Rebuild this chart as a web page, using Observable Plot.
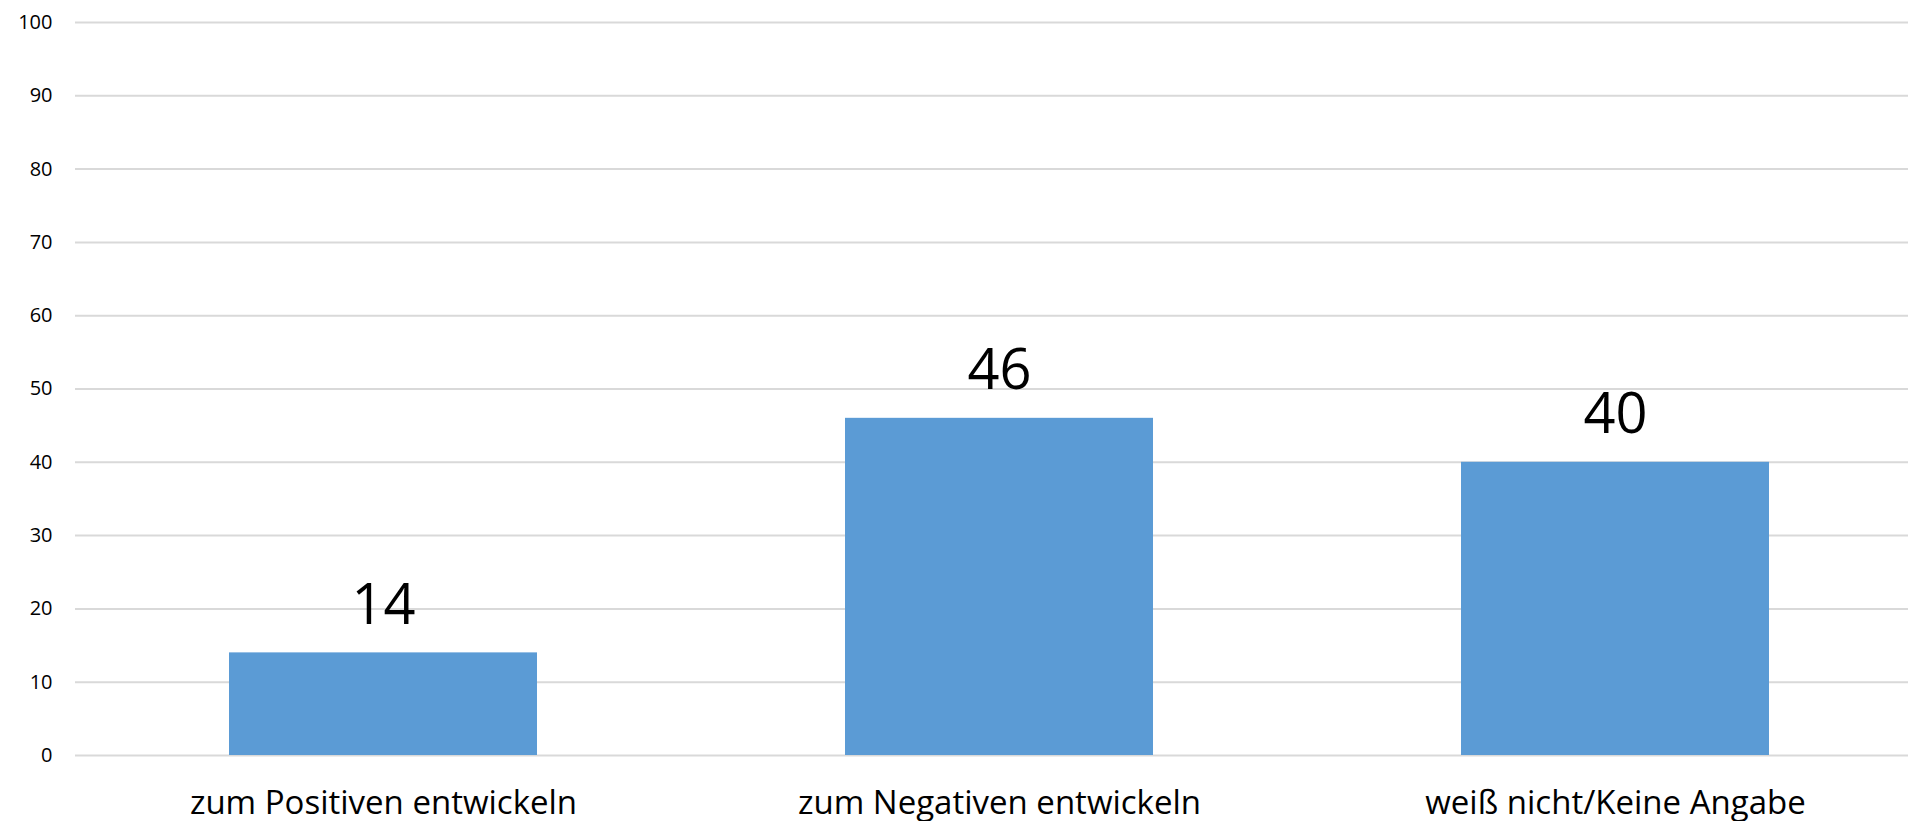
<!DOCTYPE html>
<html><head><meta charset="utf-8">
<script src="https://cdn.jsdelivr.net/npm/d3@7"></script>
<script src="https://cdn.jsdelivr.net/npm/@observablehq/plot@0.6"></script>
<style>body{margin:0;background:#fff;overflow:hidden;}</style>
</head><body><div id="chart"></div>
<script>
const categories = ["zum Positiven entwickeln", "zum Negativen entwickeln", "weiß nicht/Keine Angabe"];
const values = [14, 46, 40];
const yTicks = [0, 10, 20, 30, 40, 50, 60, 70, 80, 90, 100];

const data = categories.map((c, i) => ({category: c, value: values[i]}));

const chart = Plot.plot({
  width: 1908,
  height: 821,
  marginTop: 22,
  marginBottom: 66,
  marginLeft: 75,
  marginRight: 0,
  style: {fontFamily: "'Open Sans', sans-serif", background: "#fff"},
  x: {domain: categories, range: [75, 1923], paddingInner: 0.5, paddingOuter: 0.25, label: null},
  y: {domain: [0, 100], range: [755, 22], label: null},
  marks: [
    Plot.gridY(yTicks, {stroke: "#d9d9d9", strokeOpacity: 1, strokeWidth: 2}),
    Plot.barY(data, {x: "category", y: "value", fill: "#5B9BD5"}),
    Plot.text(data, {x: "category", y: "value", text: d => String(d.value), lineAnchor: "bottom", dy: -29, fontSize: 56, fill: "#000"}),
    Plot.axisY(yTicks, {tickSize: 0, tickPadding: 23, fontSize: 20, fill: "#000", label: null}),
    Plot.axisX({tickSize: 0, tickPadding: 35, fontSize: 33, fill: "#000", label: null})
  ]
});
document.getElementById("chart").appendChild(chart);
</script>
</body></html>
